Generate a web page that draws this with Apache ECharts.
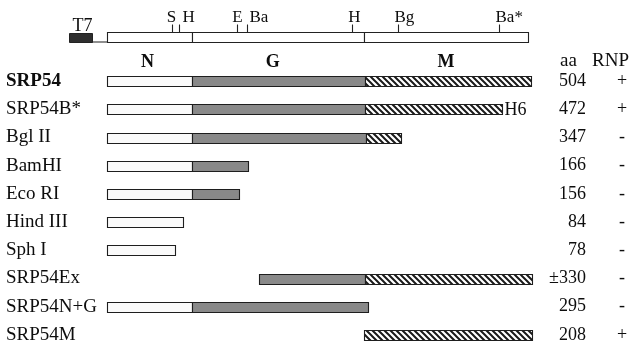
<!DOCTYPE html>
<html>
<head>
<meta charset="utf-8">
<script src="https://cdn.jsdelivr.net/npm/echarts@6/dist/echarts.min.js"></script>
<style>
html,body{margin:0;padding:0;background:#fff;}
#chart{width:642px;height:347px;}
</style>
</head>
<body>
<div id="chart"></div>
<script>
// ---- data (amino-acid positions) ----
const categories = ['SRP54','SRP54B*','Bgl II','BamHI','Eco RI','Hind III','Sph I','SRP54Ex','SRP54N+G','SRP54M'];
const aaValues = ['504','472','347','166','156','84','78','±330','295','208'];
const rnpValues = ['+','+','-','-','-','-','-','-','-','+'];
const nDomain = [[0,101],[0,101],[0,101],[0,101],[0,101],[0,90],[0,81],null,[0,101],null];
const gDomain = [[101,307],[101,307],[101,308],[101,168],[101,157],null,null,[181,307],[101,310],null];
const mDomain = [[307,504],[307,470],[308,350],null,null,null,null,[307,505],null,[305,505]];
const tags = [null,'H6',null,null,null,null,null,null,null,null];
const domainNames = ['N','G','M'];
const domainLabelAt = [48,197,403];
const mapSegments = [[0,101],[101,306],[306,501]];
const promoterName = 'T7';
const promoterRange = [-45,-18];
const siteNames = ['S','H','E','Ba','H','Bg','Ba*'];
const sitePositions = [77,86,155,166,291,346,466];
const columnHeaders = ['aa','RNP'];

// ---- style ----
const FONT = '"Liberation Serif","Times New Roman",serif';
const INK = '#0d0d0d';
const siteAlign = ['center','left','center','left','center','left','left'];
const siteDx = [-1,3,0,2,2,-4,-4];

function hatch(){
  const c = document.createElement('canvas');
  c.width = 6; c.height = 6;
  const g = c.getContext('2d');
  g.fillStyle = '#ffffff'; g.fillRect(0,0,6,6);
  g.strokeStyle = '#1a1a1a'; g.lineWidth = 2;
  g.beginPath();
  g.moveTo(-1,-1); g.lineTo(7,7);
  g.moveTo(-4,2); g.lineTo(4,10);
  g.moveTo(2,-4); g.lineTo(10,4);
  g.stroke();
  return c;
}
const fills = ['#fafafa', '#898989', {image: hatch(), repeat: 'repeat'}];

const segData = [];
[nDomain, gDomain, mDomain].forEach((arr, t) => {
  arr.forEach((seg, row) => { if (seg) segData.push([seg[0], seg[1], row, t]); });
});
const tagData = [];
tags.forEach((t, row) => { if (t) tagData.push([mDomain[row][1], row, t]); });

const BAR_H = 10;

const chart = echarts.init(document.getElementById('chart'), null, {renderer:'canvas'});
const hiddenX = (gi) => ({type:'value', gridIndex:gi, min:0, max:504, show:false});
const catAxis = (data, pos, align, margin, fmt) => ({
  type:'category', gridIndex:1, data:data, inverse:true, position:pos,
  axisLine:{show:false}, axisTick:{show:false}, splitLine:{show:false},
  axisLabel:{interval:0, align:align, margin:margin, color:INK, fontFamily:FONT, fontSize:18,
    formatter: fmt, rich: {
      b:{fontWeight:'bold', fontSize:19, fontFamily:FONT, color:INK},
      r:{fontSize:19, fontFamily:FONT, color:INK}
    }}
});

chart.setOption({
  animation:false,
  backgroundColor:'#ffffff',
  grid:[
    {left:107, width:424, top:27, height:20, containLabel:false, outerBoundsMode:'none'},
    {left:107, width:424, top:67, height:282, containLabel:false, outerBoundsMode:'none'}
  ],
  xAxis:[hiddenX(0), hiddenX(1)],
  yAxis:[
    {type:'value', gridIndex:0, min:0, max:1, show:false},
    catAxis(categories, 'left', 'left', 101, (v,i) => i===0 ? '{b|'+v+'}' : '{r|'+v+'}'),
    catAxis(aaValues, 'right', 'right', 55),
    catAxis(rnpValues, 'right', 'center', 91)
  ],
  graphic:[
    {type:'text', left:560, top:52, style:{text:columnHeaders[0], font:'19px '+FONT, fill:INK}},
    {type:'text', left:592, top:52, style:{text:columnHeaders[1], font:'19px '+FONT, fill:INK}}
  ],
  series:[
    // restriction map bar
    {type:'custom', xAxisIndex:0, yAxisIndex:0, clip:false, data:mapSegments,
      renderItem:(p, api) => {
        const a = api.coord([api.value(0), 0.5]), b = api.coord([api.value(1), 0.5]);
        return {type:'rect', shape:{x:Math.round(a[0])+0.5, y:Math.round(a[1]-BAR_H/2)+0.5, width:Math.round(b[0]-a[0]), height:BAR_H},
          style:{fill:'#ffffff', stroke:'#222', lineWidth:1.1}};
      }},
    // T7 promoter box + connector
    {type:'custom', xAxisIndex:0, yAxisIndex:0, clip:false, data:[[promoterRange[0], promoterRange[1], promoterName]],
      renderItem:(p, api) => {
        const a = api.coord([api.value(0), 0.5]), b = api.coord([api.value(1), 0.5]), z = api.coord([0, 0.5]);
        const top = Math.round(a[1]-BAR_H/2)+0.5;
        return {type:'group', children:[
          {type:'line', shape:{x1:b[0], y1:top+BAR_H-0.5, x2:z[0], y2:top+BAR_H-0.5}, style:{stroke:'#444', lineWidth:1.2}},
          {type:'rect', shape:{x:Math.round(a[0])+0.5, y:top+1, width:Math.round(b[0]-a[0]), height:BAR_H-1}, style:{fill:'#2e2e2e', stroke:'#222', lineWidth:1}},
          {type:'text', x:(a[0]+b[0])/2+2, y:top+3, style:{text:api.value(2), font:'18px '+FONT, fill:INK, align:'center', verticalAlign:'bottom'}}
        ]};
      }},
    // restriction sites
    {type:'custom', xAxisIndex:0, yAxisIndex:0, clip:false,
      data: sitePositions.map((x,i) => [x, i]),
      renderItem:(p, api) => {
        const i = api.value(1);
        const c = api.coord([api.value(0), 0.5]);
        const top = Math.round(c[1]-BAR_H/2)+0.5;
        const x = Math.round(c[0])+0.5;
        return {type:'group', children:[
          {type:'line', shape:{x1:x, y1:top, x2:x, y2:top-8}, style:{stroke:'#222', lineWidth:1.1}},
          {type:'text', x:x+siteDx[i], y:top-6, style:{text:siteNames[i], font:'17px '+FONT, fill:INK, align:siteAlign[i], verticalAlign:'bottom'}}
        ]};
      }},
    // domain headers
    {type:'custom', xAxisIndex:0, yAxisIndex:0, clip:false,
      data: domainLabelAt.map((x,i) => [x, i]),
      renderItem:(p, api) => {
        const c = api.coord([api.value(0), -0.75]);
        return {type:'text', x:c[0], y:c[1], style:{text:domainNames[api.value(1)], font:'bold 18px '+FONT, fill:INK, align:'center', verticalAlign:'middle'}};
      }},
    // construct segments
    {type:'custom', xAxisIndex:1, yAxisIndex:1, clip:false, data:segData,
      encode:{x:[0,1], y:2},
      renderItem:(p, api) => {
        const row = api.value(2), t = api.value(3);
        const a = api.coord([api.value(0), row]), b = api.coord([api.value(1), row]);
        return {type:'rect', shape:{x:Math.round(a[0])+0.5, y:Math.round(a[1]-BAR_H/2)+0.5, width:Math.round(b[0]-a[0]), height:BAR_H},
          style:{fill:fills[t], stroke:'#1e1e1e', lineWidth:1.1}};
      }},
    // tags (H6)
    {type:'custom', xAxisIndex:1, yAxisIndex:1, clip:false, data:tagData,
      renderItem:(p, api) => {
        const c = api.coord([api.value(0), api.value(1)]);
        return {type:'text', x:c[0]+2, y:c[1]+1, style:{text:tagData[p.dataIndex][2], font:'18px '+FONT, fill:INK, align:'left', verticalAlign:'middle'}};
      }}
  ]
});
</script>
</body>
</html>
